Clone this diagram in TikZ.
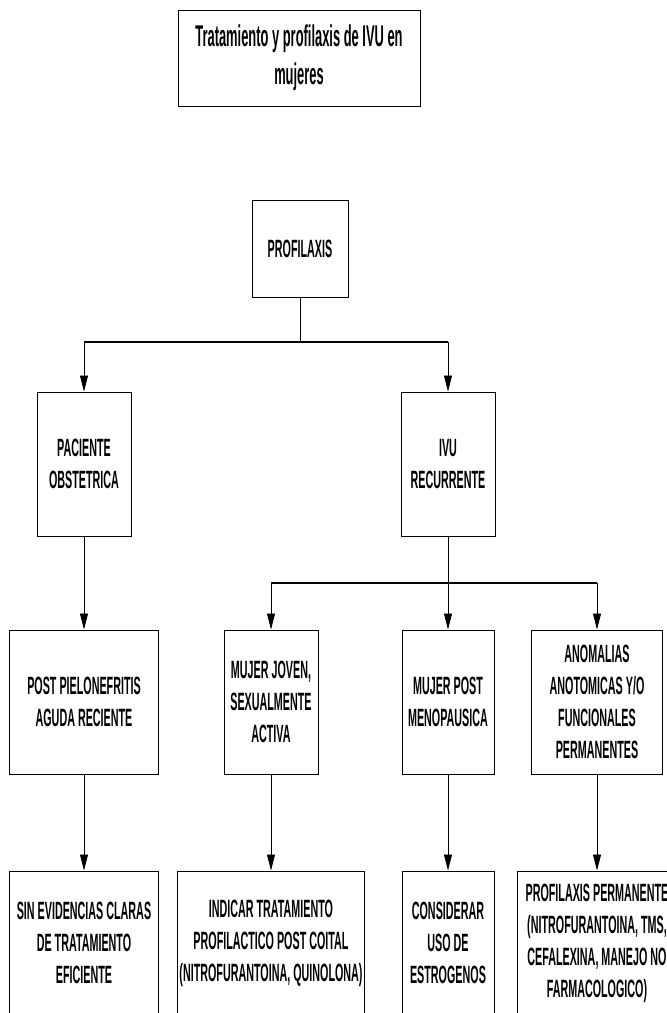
\documentclass[tikz,border=0pt]{standalone}
\usepackage{fontspec}
\setmainfont{Liberation Sans}[FakeStretch=0.43]
\usetikzlibrary{arrows.meta}

\begin{document}
\begin{tikzpicture}[x=1pt,y=-1pt]
      \clip (0,0) rectangle (667,1013);

      \begin{scope}[every node/.style={draw, line width=1pt, align=center, inner sep=0pt,
          font=\bfseries\fontsize{25}{32}\selectfont}]
        \node[minimum width=242pt, minimum height=96pt,
          font=\bfseries\fontsize{30}{38}\selectfont] (0) at (299,58) {Tratamiento y profilaxis de IVU en\\mujeres};
        \node[minimum width=96pt, minimum height=97pt] (1) at (300,248.5) {PROFILAXIS};
        \node[minimum width=94pt, minimum height=144pt] (2) at (84,464) {PACIENTE\\OBSTETRICA};
        \node[minimum width=94pt, minimum height=144pt] (3) at (448,464) {IVU\\RECURRENTE};
        \node[minimum width=149pt, minimum height=144pt] (4) at (84,702) {POST PIELONEFRITIS\\AGUDA RECIENTE};
        \node[minimum width=94pt, minimum height=144pt] (5) at (271,702) {MUJER JOVEN,\\SEXUALMENTE\\ACTIVA};
        \node[minimum width=92pt, minimum height=144pt] (6) at (448,702) {MUJER POST\\MENOPAUSICA};
        \node[minimum width=131pt, minimum height=144pt] (7) at (597,702) {ANOMALIAS\\ANOTOMICAS Y/O\\FUNCIONALES\\PERMANENTES};
        \node[minimum width=149pt, minimum height=144pt] (8) at (84,943) {SIN EVIDENCIAS CLARAS\\DE TRATAMIENTO\\EFICIENTE};
        \node[minimum width=187pt, minimum height=144pt] (9) at (271,943) {INDICAR TRATAMIENTO\\PROFILACTICO POST COITAL\\(NITROFURANTOINA, QUINOLONA)};
        \node[minimum width=92pt, minimum height=144pt] (10) at (448,943) {CONSIDERAR\\USO DE\\ESTROGENOS};
        \node[minimum width=160pt, minimum height=144pt] (11) at (597,943) {PROFILAXIS PERMANENTE\\(NITROFURANTOINA, TMS,\\CEFALEXINA, MANEJO NO\\FARMACOLOGICO)};
      \end{scope}

      \coordinate (a)  at (300,342);
      \coordinate (a1) at (84,342);
      \coordinate (a2) at (448,342);
      \coordinate (b)  at (448,583);
      \coordinate (b1) at (271,583);
      \coordinate (b3) at (597,583);

      \begin{scope}[every edge/.style={draw, line width=.8pt}, >={Triangle[width=8pt,length=16pt]}]
        \path (1)  edge (a);
        \path (a1) edge[line width=1.6pt] (a2);
        \path (a1) edge[->] (2);
        \path (a2) edge[->] (3);
        \path (2)  edge[->] (4);
        \path (3)  edge (b);
        \path (b1) edge[line width=1.6pt] (b3);
        \path (b1) edge[->] (5);
        \path (b)  edge[->] (6);
        \path (b3) edge[->] (7);
        \path (4)  edge[->] (8);
        \path (5)  edge[->] (9);
        \path (6)  edge[->] (10);
        \path (7)  edge[->] (11);
      \end{scope}

    \end{tikzpicture}
\end{document}
